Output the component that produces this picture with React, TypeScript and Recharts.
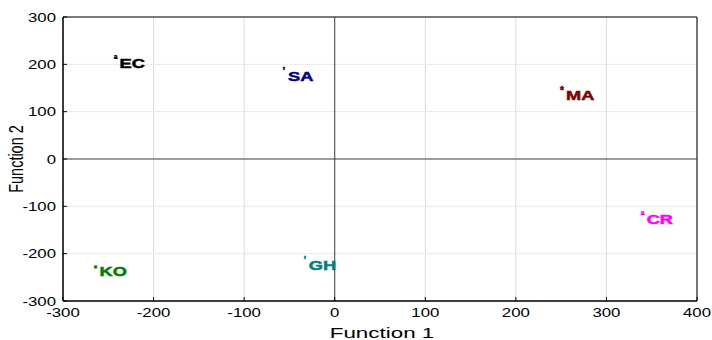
import React from 'react';
import {
  ScatterChart,
  Scatter,
  XAxis,
  YAxis,
  CartesianGrid,
  ReferenceLine,
  ReferenceArea,
  Label,
} from 'recharts';

// Group centroids on the two discriminant functions
const groups = ['EC', 'SA', 'MA', 'CR', 'KO', 'GH'];
const function1 = [-242, -56, 251, 340, -264, -33];
const function2 = [214, 186, 146, -116, -226, -213];
const groupColors = ['#000000', '#000080', '#800000', '#ff00ff', '#008000', '#008080'];
const markerGlyphs = ['ª', '\u2019', '*', 'ª', '\u25aa', '\u2019'];

const xTicks = [-300, -200, -100, 0, 100, 200, 300, 400];
const yTicks = [-300, -200, -100, 0, 100, 200, 300];
const xTitle = 'Function 1';
const yTitle = 'Function 2';

const FONT = '"Liberation Sans", Arial, sans-serif';
const SX = 1.4; // horizontal text stretch

const XTick = (props: any) => {
  const { x, y, payload } = props;
  return (
    <g>
      <line x1={x} y1={y} x2={x} y2={y - 4} stroke="#000" strokeWidth={1} />
      <text
        transform={`translate(${x},${y + 16}) scale(${SX},1)`}
        textAnchor="middle"
        fontFamily={FONT}
        fontSize={12}
        fill="#000"
      >
        {payload.value}
      </text>
    </g>
  );
};

const YTick = (props: any) => {
  const { x, y, payload } = props;
  return (
    <g>
      <line x1={x} y1={y} x2={x + 4} y2={y} stroke="#000" strokeWidth={1} />
      <text
        transform={`translate(${x - 7},${y + 4.5}) scale(${SX},1)`}
        textAnchor="end"
        fontFamily={FONT}
        fontSize={12}
        fill="#000"
      >
        {payload.value}
      </text>
    </g>
  );
};

const XTitle = (props: any) => {
  const { viewBox } = props;
  const cx = viewBox.x + viewBox.width / 2;
  return (
    <text
      transform={`translate(${cx + 2},${viewBox.y + 37}) scale(1.6,1)`}
      textAnchor="middle"
      fontFamily={FONT}
      fontSize={14}
      fill="#000"
    >
      {xTitle}
    </text>
  );
};

const YTitle = (props: any) => {
  const { viewBox } = props;
  const cy = viewBox.y + viewBox.height / 2;
  return (
    <text
      transform={`translate(23,${cy}) scale(1.45,1) rotate(-90)`}
      textAnchor="middle"
      fontFamily={FONT}
      fontSize={14.5}
      fill="#000"
    >
      {yTitle}
    </text>
  );
};

const makeShape = (i: number) => (props: any) => {
  const { cx, cy } = props;
  const color = groupColors[i];
  return (
    <g>
      <text
        x={cx}
        y={cy + 4}
        textAnchor="middle"
        fontFamily={FONT}
        fontSize={10}
        fontWeight="bold"
        fill={color}
        stroke={color}
        strokeWidth={0.5}
      >
        {markerGlyphs[i]}
      </text>
      <text
        transform={`translate(${cx + 4},${cy + 10}) scale(1.35,1)`}
        fontFamily={FONT}
        fontSize={13.5}
        fontWeight="bold"
        fill={color}
        stroke={color}
        strokeWidth={0.5}
      >
        {groups[i]}
      </text>
    </g>
  );
};

const series = groups.map((g, i) => ({
  name: g,
  data: [{ x: function1[i], y: function2[i] }],
}));

export default function App() {
  return (
    <div style={{ position: 'absolute', left: 0, top: 0 }}>
      <ScatterChart
        width={712}
        height={340}
        margin={{ top: 17, right: 15, bottom: 0, left: 0 }}
      >
        <CartesianGrid horizontal={false} stroke="#dcdcdc" />
        <CartesianGrid vertical={false} stroke="#d4d4d4" strokeDasharray="1 1" />
        <XAxis
          type="number"
          dataKey="x"
          domain={[-300, 400]}
          ticks={xTicks}
          interval={0}
          allowDataOverflow
          height={39}
          tickSize={0}
          tickMargin={0}
          tickLine={false}
          axisLine={{ stroke: '#000' }}
          tick={<XTick />}
        >
          <Label content={<XTitle />} />
        </XAxis>
        <YAxis
          type="number"
          dataKey="y"
          domain={[-300, 300]}
          ticks={yTicks}
          interval={0}
          allowDataOverflow
          width={63}
          tickSize={0}
          tickMargin={0}
          tickLine={false}
          axisLine={{ stroke: '#000' }}
          tick={<YTick />}
        >
          <Label content={<YTitle />} />
        </YAxis>
        <ReferenceLine x={0} stroke="#444" strokeWidth={1} />
        <ReferenceLine y={0} stroke="#444" strokeWidth={1} />
        <ReferenceArea
          x1={-300}
          x2={400}
          y1={-300}
          y2={300}
          fill="none"
          stroke="#000"
          strokeWidth={1}
          fillOpacity={0}
        />
        {series.map((s, i) => (
          <Scatter
            key={s.name}
            name={s.name}
            data={s.data}
            fill={groupColors[i]}
            shape={makeShape(i)}
            isAnimationActive={false}
          />
        ))}
      </ScatterChart>
    </div>
  );
}
